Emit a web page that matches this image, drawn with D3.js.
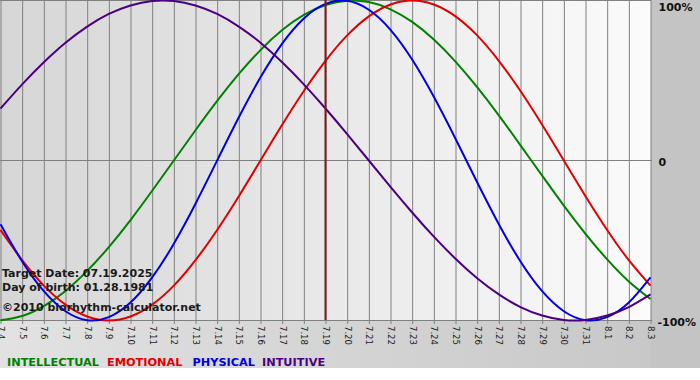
<!DOCTYPE html>
<html><head><meta charset="utf-8">
<script src="https://cdn.jsdelivr.net/npm/d3@7"></script>
<style>html,body{margin:0;padding:0;background:#fff;}svg{display:block;}</style>
</head><body>
<script>
const dates = ["7.4","7.5","7.6","7.7","7.8","7.9","7.10","7.11","7.12","7.13","7.14","7.15","7.16","7.17","7.18","7.19","7.20","7.21","7.22","7.23","7.24","7.25","7.26","7.27","7.28","7.29","7.30","7.31","8.1","8.2","8.3"];
const intellectual = [-99.9,-97.2,-91.0,-81.5,-69.0,-54.1,-37.2,-18.9,0,18.9,37.2,54.1,69.0,81.5,91.0,97.2,99.9,99.0,94.5,86.6,75.6,61.8,45.8,28.2,9.5,-9.5,-28.2,-45.8,-61.8,-75.6,-86.6];
const emotional = [-43.4,-62.3,-78.2,-90.1,-97.5,-100,-97.5,-90.1,-78.2,-62.3,-43.4,-22.3,0,22.3,43.4,62.3,78.2,90.1,97.5,100,97.5,90.1,78.2,62.3,43.4,22.3,0,-22.3,-43.4,-62.3,-78.2];
const physical = [-39.8,-63.1,-81.7,-94.2,-99.8,-97.9,-88.8,-73.1,-52.0,-27.0,0,27.0,52.0,73.1,88.8,97.9,99.8,94.2,81.7,63.1,39.8,13.6,-13.6,-39.8,-63.1,-81.7,-94.2,-99.8,-97.9,-88.8,-73.1];
const intuitive = [32.5,47.6,61.4,73.6,83.7,91.6,96.9,99.7,99.7,96.9,91.6,83.7,73.6,61.4,47.6,32.5,16.5,0,-16.5,-32.5,-47.6,-61.4,-73.6,-83.7,-91.6,-96.9,-99.7,-99.7,-96.9,-91.6,-83.7];
const seriesNames = ["INTELLECTUAL","EMOTIONAL","PHYSICAL","INTUITIVE"];
const yTicks = [100, 0, -100];
const yTickLabels = ["100%","0","-100%"];
const targetDate = "7.19";
const infoLines = ["Target Date: 07.19.2025","Day of birth: 01.28.1981","\u00A92010 biorhythm-calculator.net"];

const W = 700, H = 380;
const colors = ["#008000","#e00000","#0000e0","#4b0082"];
const seriesData = [intellectual, emotional, physical, intuitive];

const svg = d3.select("body").append("svg").attr("width", W).attr("height", H);
const defs = svg.append("defs");
const g1 = defs.append("linearGradient").attr("id","plotbg").attr("x1","0").attr("x2","1").attr("y1","0").attr("y2","0");
g1.append("stop").attr("offset","0").attr("stop-color","#d6d6d6");
g1.append("stop").attr("offset","1").attr("stop-color","#fbfbfb");
const g2 = defs.append("linearGradient").attr("id","botbg").attr("x1","0").attr("x2","1").attr("y1","0").attr("y2","0");
g2.append("stop").attr("offset","0").attr("stop-color","#e2e2e2");
g2.append("stop").attr("offset","1").attr("stop-color","#c6c6c6");

const x = d3.scalePoint().domain(dates).range([0.5, 650.5]);
const y = d3.scaleLinear().domain([-100, 100]).range([320.5, 0.5]);

// backgrounds
svg.append("rect").attr("x",0).attr("y",0).attr("width",W).attr("height",368).attr("fill","url(#botbg)");
svg.append("rect").attr("x",651).attr("y",0).attr("width",49).attr("height",368).attr("fill","#c4c4c4");
svg.append("rect").attr("x",0).attr("y",0).attr("width",651).attr("height",321).attr("fill","url(#plotbg)");

// vertical grid + labels via axis
const ax = svg.append("g").attr("transform","translate(0,0)")
  .call(d3.axisBottom(x).tickSize(324).tickSizeOuter(0));
ax.select(".domain").remove();
ax.selectAll(".tick line").attr("stroke","#808080").attr("stroke-width",1);
ax.selectAll(".tick text")
  .attr("x",0).attr("y",0).attr("dy","0.35em")
  .attr("text-anchor","start")
  .attr("transform","translate(0,326) rotate(90)")
  .attr("font-family","DejaVu Sans, Verdana, sans-serif")
  .attr("font-size","8.5px")
  .attr("fill","#1a1a1a");

// horizontal lines
svg.selectAll("line.h").data(yTicks).enter().append("line")
  .attr("x1",0).attr("x2",d => d === 100 ? 651 : 652)
  .attr("y1",d => y(d)).attr("y2",d => y(d))
  .attr("stroke","#808080").attr("stroke-width",1);

// series
const line = d3.line().x((d,i) => x(dates[i])).y(d => y(d)).curve(d3.curveNatural);
seriesData.forEach((s,i) => {
  svg.append("path").attr("d", line(s)).attr("fill","none")
    .attr("stroke", colors[i]).attr("stroke-width", 2);
});

// target line
svg.append("line").attr("x1",x(targetDate)).attr("x2",x(targetDate))
  .attr("y1",0).attr("y2",320).attr("stroke","#80161a").attr("stroke-width",2);

// y labels
const yBase = [10.7, 166, 326];
svg.selectAll("text.yl").data(yTickLabels).enter().append("text")
  .attr("x",(d,i) => i===2 ? 657.5 : 658.5).attr("y",(d,i) => yBase[i])
  .attr("font-family","DejaVu Sans, Verdana, sans-serif").attr("font-weight","bold")
  .attr("font-size","11px").attr("fill","#111").text(d => d);

// info text
const infoY = [277, 291, 311];
svg.selectAll("text.info").data(infoLines).enter().append("text")
  .attr("x",2).attr("y",(d,i) => infoY[i])
  .attr("font-family","DejaVu Sans, Verdana, sans-serif").attr("font-weight","bold")
  .attr("font-size","11px").attr("fill","#1a1a1a").text(d => d);

// legend
const legX = [7, 107, 192.5, 262];
svg.selectAll("text.leg").data(seriesNames).enter().append("text")
  .attr("x",(d,i) => legX[i]).attr("y",366)
  .attr("font-family","DejaVu Sans, Verdana, sans-serif").attr("font-weight","bold")
  .attr("font-size","11.3px").attr("fill",(d,i) => colors[i]).text(d => d);
</script>
</body></html>
